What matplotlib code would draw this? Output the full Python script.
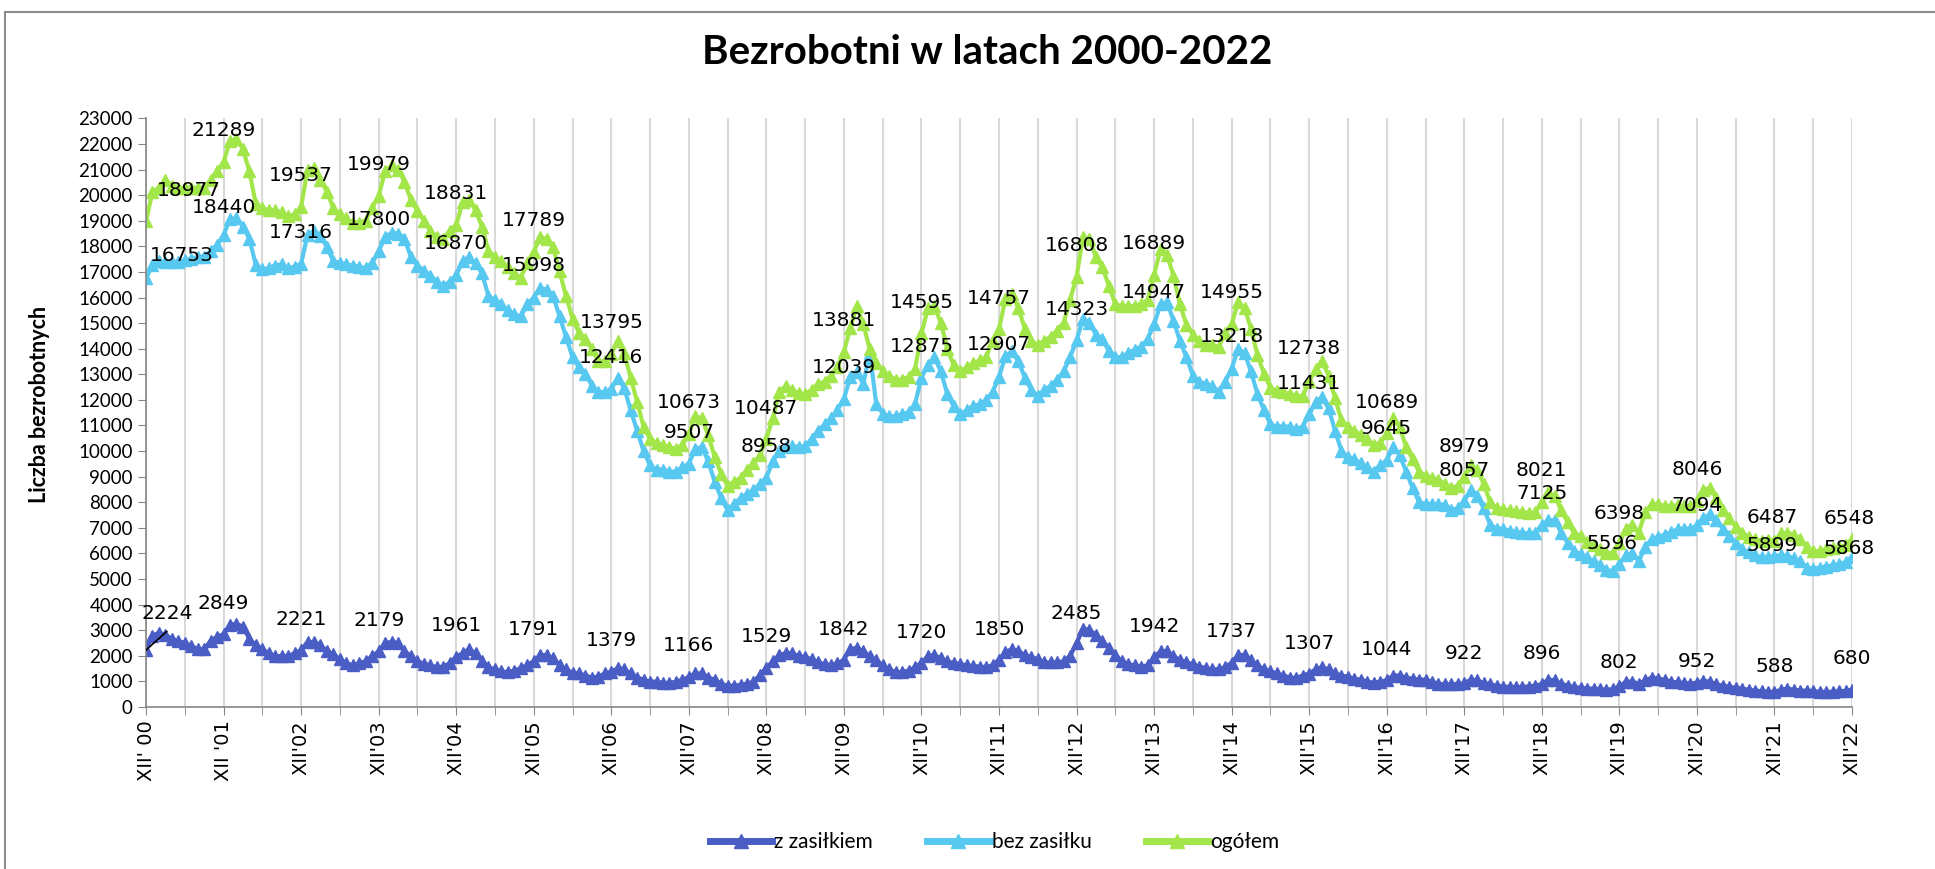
import numpy as np
import matplotlib.pyplot as plt
from matplotlib.lines import Line2D
from matplotlib.patches import Rectangle

# Monthly data, XII 2000 .. XII 2022 (one line = XII of a year + next 12 months)
z_zasilkiem = [
    2224, 2790, 2900, 2820, 2660, 2580, 2500, 2390, 2260, 2260, 2580, 2740, 2849,
    3220, 3250, 3140, 2660, 2420, 2260, 2100, 1990, 1990, 1990, 2100, 2221,
    2540, 2540, 2420, 2180, 2060, 1870, 1710, 1630, 1710, 1790, 1990, 2179,
    2500, 2540, 2500, 2180, 1990, 1800, 1680, 1630, 1550, 1580, 1710, 1961,
    2100, 2260, 2100, 1790, 1550, 1470, 1390, 1360, 1420, 1520, 1630, 1791,
    2030, 2030, 1900, 1630, 1470, 1340, 1310, 1230, 1150, 1180, 1310, 1379,
    1520, 1470, 1310, 1150, 1070, 990, 990, 940, 940, 990, 1070, 1166,
    1310, 1310, 1150, 1070, 910, 830, 830, 860, 910, 990, 1250, 1529,
    1790, 2030, 2100, 2100, 1990, 1950, 1870, 1740, 1670, 1630, 1710, 1842,
    2260, 2310, 2180, 1990, 1830, 1630, 1470, 1360, 1360, 1420, 1550, 1720,
    1990, 2030, 1900, 1790, 1710, 1670, 1630, 1600, 1580, 1550, 1630, 1850,
    2150, 2260, 2180, 2030, 1950, 1870, 1740, 1740, 1740, 1790, 1990, 2485,
    3060, 3010, 2820, 2580, 2310, 2030, 1790, 1670, 1630, 1580, 1630, 1942,
    2180, 2180, 1990, 1830, 1740, 1670, 1580, 1520, 1470, 1470, 1550, 1737,
    2030, 2030, 1830, 1630, 1470, 1390, 1310, 1230, 1150, 1130, 1230, 1307,
    1470, 1550, 1470, 1310, 1230, 1180, 1100, 1070, 990, 940, 990, 1044,
    1230, 1230, 1150, 1100, 1070, 1070, 990, 910, 880, 880, 910, 922,
    1070, 1040, 940, 880, 830, 800, 780, 780, 780, 800, 830, 896,
    1070, 1040, 910, 830, 780, 750, 720, 720, 700, 670, 700, 802,
    990, 990, 910, 1040, 1150, 1100, 1070, 990, 960, 940, 910, 952,
    1020, 990, 880, 830, 780, 750, 720, 670, 640, 620, 590, 588,
    670, 720, 670, 640, 640, 620, 590, 590, 590, 620, 620, 680,
]

bez_zasilku = [
    16753, 17260, 17420, 17370, 17400, 17400, 17450, 17500, 17600, 17600, 17800, 18050, 18440,
    19060, 19100, 18770, 18300, 17260, 17100, 17150, 17250, 17300, 17150, 17200, 17316,
    18450, 18600, 18400, 17970, 17420, 17350, 17300, 17250, 17200, 17150, 17350, 17800,
    18370, 18530, 18500, 18300, 17580, 17250, 17050, 16860, 16620, 16460, 16620, 16870,
    17420, 17580, 17340, 16940, 16060, 15900, 15740, 15500, 15340, 15260, 15740, 15998,
    16380, 16300, 16060, 15260, 14470, 13670, 13270, 13030, 12550, 12310, 12310, 12416,
    12870, 12470, 11600, 10800, 10000, 9440, 9280, 9280, 9200, 9200, 9360, 9507,
    10080, 10160, 9600, 8800, 8170, 7690, 7930, 8170, 8330, 8480, 8720, 8958,
    9600, 10000, 10160, 10190, 10160, 10190, 10480, 10800, 11040, 11280, 11600, 12039,
    12900, 13100, 12620, 13850, 11850, 11460, 11360, 11360, 11440, 11520, 11830, 12875,
    13350, 13670, 13110, 12230, 11750, 11440, 11600, 11750, 11830, 11990, 12310, 12907,
    13700, 13900, 13510, 12870, 12390, 12150, 12390, 12550, 12790, 13110, 13670, 14323,
    15180, 15020, 14550, 14390, 13900, 13670, 13670, 13830, 13960, 14070, 14390, 14947,
    15740, 15820, 15100, 14310, 13670, 12950, 12710, 12630, 12550, 12310, 12710, 13218,
    13990, 13830, 13110, 12230, 11600, 11040, 10960, 10960, 10960, 10850, 10960, 11431,
    11910, 12100, 11670, 10800, 10000, 9760, 9680, 9520, 9360, 9200, 9440, 9645,
    10160, 9840, 9200, 8560, 8010, 7930, 7930, 7930, 7900, 7690, 7770, 8057,
    8480, 8250, 7770, 7130, 6970, 6970, 6890, 6840, 6810, 6780, 6810, 7125,
    7290, 7290, 6810, 6410, 6090, 5970, 5850, 5690, 5530, 5370, 5300, 5596,
    5930, 6010, 5690, 6250, 6570, 6650, 6730, 6840, 6940, 6970, 6970, 7094,
    7370, 7530, 7290, 6970, 6680, 6410, 6170, 6040, 5930, 5850, 5850, 5899,
    5930, 5890, 5820, 5690, 5450, 5400, 5450, 5490, 5530, 5570, 5660, 5868,
]

ogolem = [
    18977, 20130, 20290, 20600, 20370, 20290, 20290, 20290, 20290, 20290, 20600, 20930, 21289,
    22120, 22200, 21800, 20930, 19650, 19490, 19410, 19410, 19330, 19170, 19250, 19537,
    21000, 21080, 20600, 20130, 19490, 19250, 19090, 18930, 18930, 19010, 19490, 19979,
    20930, 21160, 21000, 20530, 19810, 19400, 19010, 18610, 18370, 18290, 18610, 18831,
    19730, 19810, 19410, 18770, 17810, 17580, 17420, 17180, 16940, 16780, 17340, 17789,
    18370, 18290, 17970, 17020, 16060, 15180, 14630, 14390, 13990, 13510, 13510, 13795,
    14310, 13830, 12870, 11910, 10960, 10480, 10320, 10240, 10160, 10080, 10240, 10673,
    11360, 11280, 10640, 9760, 9120, 8640, 8800, 8960, 9280, 9520, 9840, 10487,
    11280, 12310, 12550, 12390, 12260, 12230, 12390, 12630, 12710, 12950, 13270, 13881,
    14820, 15670, 14960, 13980, 13460, 13140, 12940, 12790, 12790, 12900, 13190, 14595,
    15580, 15660, 15020, 13990, 13350, 13110, 13270, 13430, 13540, 13670, 14310, 14757,
    15950, 16140, 15580, 14790, 14310, 14150, 14310, 14470, 14710, 15020, 15900, 16808,
    18370, 18290, 17580, 17180, 16460, 15740, 15660, 15660, 15660, 15740, 15900, 16889,
    17890, 17660, 16860, 15740, 14940, 14550, 14310, 14150, 14150, 14070, 14630, 14955,
    15820, 15580, 14790, 13750, 13030, 12470, 12360, 12310, 12230, 12150, 12150, 12738,
    13190, 13510, 12950, 12070, 11200, 10960, 10800, 10640, 10480, 10240, 10320, 10689,
    11280, 10960, 10160, 9680, 9200, 9040, 8960, 8880, 8720, 8560, 8640, 8979,
    9440, 9280, 8720, 8010, 7770, 7720, 7690, 7640, 7610, 7580, 7610, 8021,
    8400, 8250, 7690, 7210, 6810, 6700, 6450, 6330, 6170, 6010, 6010, 6398,
    6970, 7130, 6810, 7610, 7930, 7930, 7850, 7850, 7880, 7850, 7850, 8046,
    8480, 8560, 8170, 7690, 7370, 7050, 6810, 6650, 6570, 6490, 6520, 6487,
    6780, 6810, 6730, 6570, 6250, 6090, 6090, 6170, 6200, 6250, 6330, 6548,
]

tick_labels = ["XII' 00", "XII '01"] + ["XII'%02d" % y for y in range(2, 23)]

# label placement (text centres, in data coordinates)
lab_y_og = [20180, 22520, 20770, 21210, 20050, 19010, 15020, 11910, 11670, 15100, 15790, 15970,
            18050, 18130, 16190, 13990, 11910, 10190, 9250, 7560, 9280, 7420, 7370]
lab_y_bez = [17660, 19520, 18530, 19040, 18130, 17260, 13670, 10720, 10190, 13270, 14100, 14150,
             15550, 16190, 14470, 12630, 10880, 9250, 8330, 6380, 7890, 6300, 6200]
lab_y_z = [3650, 4050, 3430, 3380, 3170, 3030, 2580, 2420, 2740, 3030, 2930, 3030,
           3670, 3140, 2950, 2500, 2230, 2100, 2100, 1740, 1790, 1580, 1900]
lab_x_og = [12 * k for k in range(23)]
lab_x_bez = [12 * k for k in range(23)]
lab_x_z = [12 * k for k in range(23)]
lab_x_og[0], lab_x_bez[0], lab_x_z[0] = 6.6, 5.5, 3.3
lab_x_bez[19] = 226.8
lab_x_og[21] = lab_x_bez[21] = 251.7
lab_x_og[22] = lab_x_bez[22] = 263.6

c_z = '#4A5DC4'
c_bez = '#57C8F0'
c_og = '#A2E64A'

fig = plt.figure(figsize=(19.35, 8.69), dpi=100)
ax = fig.add_axes([146 / 1935, 1 - 707 / 869, (1852 - 146) / 1935, (707 - 118.4) / 869])

x = np.arange(len(z_zasilkiem))
for vals, col, name in [(z_zasilkiem, c_z, 'z zasiłkiem'),
                        (bez_zasilku, c_bez, 'bez zasiłku'),
                        (ogolem, c_og, 'ogółem')]:
    ax.plot(x, vals, color=col, lw=3.0, marker='^', ms=8, mec=col, label=name)

# year-end data labels
dec = np.arange(0, len(x), 12)
for vals, lx, ly in [(ogolem, lab_x_og, lab_y_og),
                     (bez_zasilku, lab_x_bez, lab_y_bez),
                     (z_zasilkiem, lab_x_z, lab_y_z)]:
    for k, i in enumerate(dec):
        ax.text(lx[k], ly[k], str(vals[i]), ha='center', va='center',
                fontsize=14.5, family='DejaVu Sans', zorder=5)
ax.plot([0, 3.2], [z_zasilkiem[0], 2950], color='black', lw=1.2, zorder=6)

ax.set_xlim(0, 264)
ax.set_ylim(0, 23000)
ax.set_yticks(np.arange(0, 23001, 1000))
ax.set_yticklabels([str(v) for v in range(0, 23001, 1000)], family='Lato', fontsize=13.5)
ax.set_xticks(dec)
ax.set_xticklabels(tick_labels, rotation=90, family='DejaVu Sans', fontsize=14)
ax.set_xticks(np.arange(6, 264, 12), minor=True)
ax.grid(True, axis='x', which='both', color='#D9D9D9', lw=1.5)
ax.set_axisbelow(True)
ax.tick_params(axis='both', which='both', direction='out', length=6, color='#868686')
for s in ['top', 'right']:
    ax.spines[s].set_visible(False)
for s in ['left', 'bottom']:
    ax.spines[s].set_color('#868686')
    ax.spines[s].set_linewidth(1.2)

fig.text(0.51, 0.94, 'Bezrobotni w latach 2000-2022', ha='center', va='center',
         fontsize=29, fontweight='bold', family='Lato')
fig.text(40 / 1935, 1 - 404 / 869, 'Liczba bezrobotnych', rotation=90, ha='center', va='center',
         fontsize=15.5, fontweight='bold', family='Lato')

handles = [Line2D([], [], color=c, lw=5, marker='^', ms=10) for c in (c_z, c_bez, c_og)]
fig.legend(handles, ['z zasiłkiem', 'bez zasiłku', 'ogółem'], loc='center',
           bbox_to_anchor=(0.514, 0.031), ncol=3, frameon=False, numpoints=1,
           prop={'family': 'Lato', 'size': 15}, handlelength=3.0, columnspacing=2.6,
           handletextpad=0.1)

fig.patches.append(Rectangle((5 / 1935, -0.05), 1.1, 1 - 12 / 869 + 0.05,
                             transform=fig.transFigure, fill=False, ec='#8C8C8C', lw=1.5))

plt.savefig('out.png', dpi=100)
